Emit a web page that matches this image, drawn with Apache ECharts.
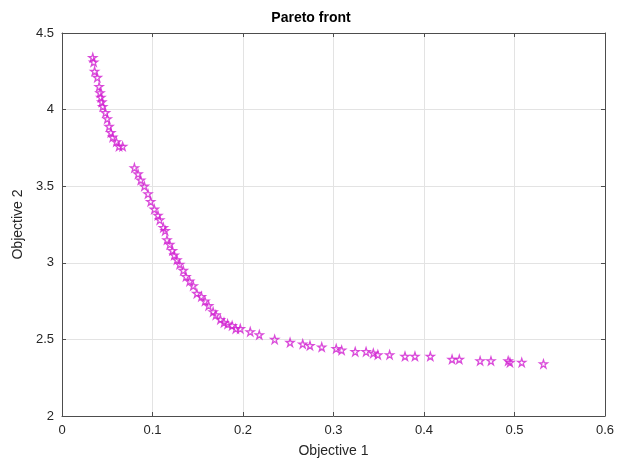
<!DOCTYPE html>
<html>
<head>
<meta charset="utf-8">
<script src="https://cdn.jsdelivr.net/npm/echarts@6/dist/echarts.min.js"></script>
<style>html,body{margin:0;padding:0;background:#fff}#c{width:622px;height:463px}</style>
</head>
<body>
<div id="c"></div>
<script>
var objective1 = [0.034,0.035,0.036,0.039,0.041,0.042,0.043,0.044,0.045,0.048,0.050,0.052,0.054,0.056,0.060,0.063,0.067,
  0.080,0.084,0.087,0.091,0.095,0.098,0.102,0.106,0.108,0.112,0.114,0.116,0.119,0.122,0.124,0.127,0.130,0.134,0.137,0.141,0.145,0.149,0.154,0.158,0.162,0.167,0.170,0.175,0.179,0.183,0.188,0.192,0.197,
  0.208,0.218,0.235,0.252,0.266,0.274,0.287,0.303,0.309,0.324,0.336,0.344,0.349,0.362,0.379,0.390,0.407,0.431,0.439,0.462,0.474,0.493,0.495,0.508,0.532];
var objective2 = [4.34,4.31,4.25,4.21,4.15,4.11,4.08,4.05,4.02,3.98,3.94,3.89,3.85,3.82,3.79,3.76,3.76,
  3.62,3.58,3.54,3.50,3.45,3.40,3.35,3.31,3.28,3.23,3.21,3.15,3.12,3.08,3.05,3.02,2.99,2.95,2.91,2.88,2.85,2.80,2.78,2.75,2.72,2.68,2.66,2.63,2.61,2.60,2.59,2.57,2.57,
  2.55,2.53,2.50,2.48,2.47,2.46,2.45,2.44,2.43,2.42,2.42,2.41,2.40,2.40,2.39,2.39,2.39,2.37,2.37,2.36,2.36,2.36,2.35,2.35,2.34];
var titleText = 'Pareto front';
var xName = 'Objective 1';
var yName = 'Objective 2';

var pts = objective1.map(function (v, i) { return [v, objective2[i]]; });
var star = 'path://M50,2 L61.2,36.6 L97.6,36.6 L68.2,58 L79.4,92.6 L50,71.2 L20.6,92.6 L31.8,58 L2.4,36.6 L38.8,36.6 Z';
var font = 'Liberation Sans, Arial, sans-serif';
var axisCol = '#4d4d4d';
var labelCol = '#262626';

function xAx(pos, showLabel) {
  return {
    type: 'value', position: pos, min: 0, max: 0.6, interval: 0.1,
    name: showLabel ? xName : '', nameLocation: 'middle', nameGap: 28,
    nameTextStyle: { fontFamily: font, fontSize: 14, color: labelCol },
    axisLine: { show: true, onZero: false, lineStyle: { color: axisCol, width: 1 } },
    axisTick: { show: true, inside: true, length: 4, lineStyle: { color: axisCol } },
    axisLabel: { show: showLabel, fontFamily: font, fontSize: 13, color: labelCol, margin: 8 },
    splitLine: { show: showLabel, lineStyle: { color: '#e3e3e3' } }
  };
}
function yAx(pos, showLabel) {
  return {
    type: 'value', position: pos, min: 2, max: 4.5, interval: 0.5,
    name: showLabel ? yName : '', nameLocation: 'middle', nameGap: 37,
    nameTextStyle: { fontFamily: font, fontSize: 14, color: labelCol },
    axisLine: { show: true, onZero: false, lineStyle: { color: axisCol, width: 1 } },
    axisTick: { show: true, inside: true, length: 4, lineStyle: { color: axisCol } },
    axisLabel: { show: showLabel, fontFamily: font, fontSize: 13, color: labelCol, margin: 8 },
    splitLine: { show: showLabel, lineStyle: { color: '#e3e3e3' } }
  };
}

var chart = echarts.init(document.getElementById('c'), null, { renderer: 'canvas' });
chart.setOption({
  animation: false,
  backgroundColor: '#fff',
  title: {
    text: titleText, left: 'center', top: 6,
    textStyle: { fontFamily: font, fontSize: 14, fontWeight: 'bold', color: '#000' }
  },
  grid: { left: 62, right: 17, top: 33, bottom: 47 },
  xAxis: [xAx('bottom', true), xAx('top', false)],
  yAxis: [yAx('left', true), yAx('right', false)],
  series: [{
    type: 'scatter',
    xAxisIndex: 0, yAxisIndex: 0,
    data: pts,
    symbol: star,
    symbolSize: 8,
    itemStyle: { color: 'rgba(255,255,255,0)', borderColor: '#d11fd1', borderWidth: 1.3 }
  }]
});
</script>
</body>
</html>
